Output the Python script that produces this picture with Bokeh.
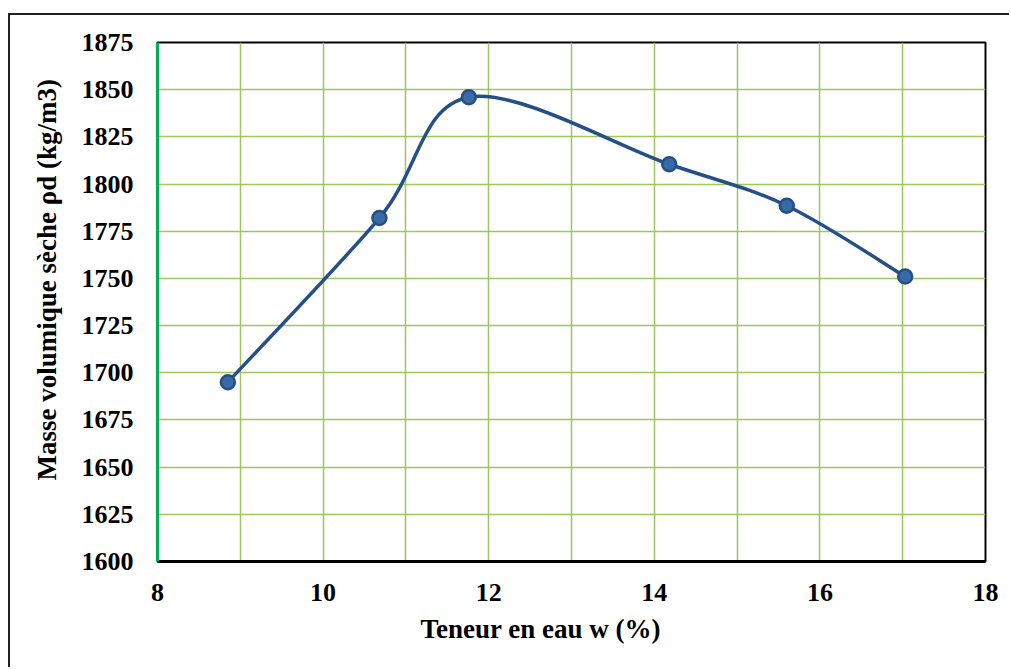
from bokeh.plotting import figure
from bokeh.embed import file_html
from bokeh.resources import INLINE
from bokeh.models import SingleIntervalTicker, Title, Range1d, ColumnDataSource

# data
water_content = [8.85, 10.68, 11.76, 14.18, 15.60, 17.03]
dry_density = [1695, 1782, 1846, 1810.5, 1788.5, 1751]
x_label = "Teneur  en eau w (%)"
y_label = "Masse volumique sèche ρd (kg/m3)"

FONT = "Liberation Serif"
LINE_COL = "#255087"

# Catmull-Rom style smoothing (like Excel smoothed line)
n = len(water_content)
x0s, y0s, x1s, y1s, cx0s, cy0s, cx1s, cy1s = [], [], [], [], [], [], [], []
for i in range(n - 1):
    xa, ya = water_content[i], dry_density[i]
    xb, yb = water_content[i + 1], dry_density[i + 1]
    xp, yp = (water_content[i - 1], dry_density[i - 1]) if i > 0 else (xa, ya)
    xn, yn = (water_content[i + 2], dry_density[i + 2]) if i + 2 < n else (xb, yb)
    x0s.append(xa); y0s.append(ya); x1s.append(xb); y1s.append(yb)
    cx0s.append(xa + (xb - xp) / 6); cy0s.append(ya + (yb - yp) / 6)
    cx1s.append(xb - (xn - xa) / 6); cy1s.append(yb - (yn - ya) / 6)

p = figure(width=1001, height=654, output_backend="svg", toolbar_location=None,
           x_range=Range1d(8, 18), y_range=Range1d(1600, 1875),
           min_border_left=147, min_border_right=26, min_border_top=27, min_border_bottom=108)
p.margin = (13, 0, 0, 8)
p.styles = {"border-left": "2px solid #222", "border-top": "2px solid #222"}

p.outline_line_color = "black"
p.outline_line_width = 2
p.background_fill_color = "white"
p.border_fill_color = "white"

p.xaxis.ticker = SingleIntervalTicker(interval=2)
p.yaxis.ticker = SingleIntervalTicker(interval=25)
p.xgrid.ticker = SingleIntervalTicker(interval=1)
p.ygrid.ticker = SingleIntervalTicker(interval=25)
for g in (p.xgrid, p.ygrid):
    g.grid_line_color = "#9DC75E"
    g.grid_line_width = 1.5

for ax in (p.xaxis, p.yaxis):
    ax.major_tick_line_color = None
    ax.minor_tick_line_color = None
    ax.major_tick_out = 0
    ax.minor_tick_out = 0
    ax.major_label_text_font = FONT
    ax.major_label_text_font_style = "bold"
    ax.major_label_text_font_size = "26px"
    ax.major_label_text_color = "black"
p.yaxis.major_label_standoff = 24
p.xaxis.major_label_standoff = 22
p.xaxis.axis_line_color = "black"
p.xaxis.axis_line_width = 3
p.yaxis.axis_line_color = "#00B050"
p.yaxis.axis_line_width = 3

xt = Title(text=x_label, align="left", offset=263, text_font=FONT, text_font_style="bold",
           text_font_size="27px", text_color="black", standoff=17)
p.add_layout(xt, "below")
yt = Title(text=y_label, align="left", offset=81, text_font=FONT, text_font_style="bold",
           text_font_size="27px", text_color="black", standoff=34)
p.add_layout(yt, "left")

src = ColumnDataSource(dict(x0=x0s, y0=y0s, x1=x1s, y1=y1s, cx0=cx0s, cy0=cy0s, cx1=cx1s, cy1=cy1s))
p.bezier(x0="x0", y0="y0", x1="x1", y1="y1", cx0="cx0", cy0="cy0", cx1="cx1", cy1="cy1",
         source=src, line_color=LINE_COL, line_width=3.5)
p.scatter(water_content, dry_density, size=14, fill_color="#3A69A8", line_color=LINE_COL, line_width=2.5)

open("out.html", "w").write(file_html(p, INLINE))
